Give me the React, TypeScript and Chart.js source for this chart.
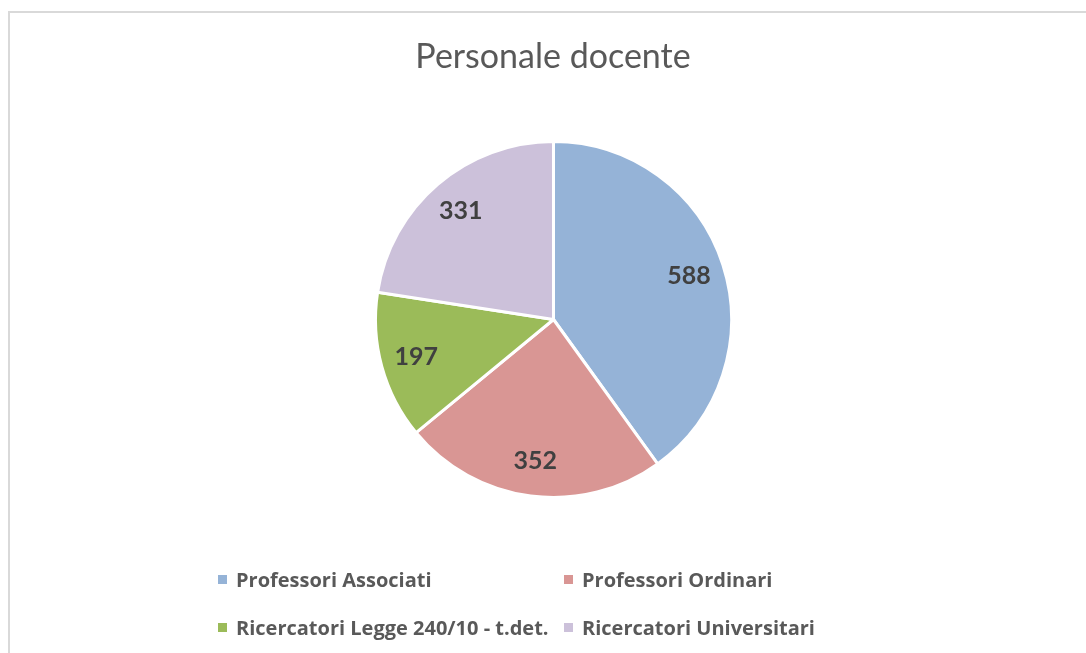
import React, { useEffect, useRef } from "react";
import { Chart, registerables } from "chart.js";

Chart.register(...registerables);

const title = "Personale docente";
const categories = [
  "Professori Associati",
  "Professori Ordinari",
  "Ricercatori Legge 240/10 - t.det.",
  "Ricercatori Universitari",
];
const values = [588, 352, 197, 331];
const colors = ["#95B3D7", "#D99694", "#9BBB59", "#CCC1DA"];

const labelPlugin = {
  id: "sliceLabels",
  afterDatasetsDraw(chart: any) {
    const ctx = chart.ctx;
    const meta = chart.getDatasetMeta(0);
    ctx.save();
    ctx.font = "bold 25px Lato, 'Open Sans', sans-serif";
    ctx.fillStyle = "#404040";
    ctx.textAlign = "center";
    ctx.textBaseline = "middle";
    meta.data.forEach((arc: any, i: number) => {
      const p = arc.getProps(["x", "y", "startAngle", "endAngle", "outerRadius"], true);
      const mid = (p.startAngle + p.endAngle) / 2;
      const r = p.outerRadius * 0.8;
      ctx.fillText(String(chart.data.datasets[0].data[i]), p.x + Math.cos(mid) * r, p.y + Math.sin(mid) * r);
    });
    ctx.restore();
  },
};

export default function App() {
  const ref = useRef<HTMLCanvasElement>(null);
  useEffect(() => {
    if (!ref.current) return;
    const chart = new Chart(ref.current, {
      type: "pie",
      data: {
        labels: categories,
        datasets: [
          {
            data: values,
            backgroundColor: colors,
            borderColor: "#ffffff",
            borderWidth: 3,
          },
        ],
      },
      options: {
        responsive: false,
        animation: false,
        layout: { padding: { top: 140, bottom: 154, left: 221, right: 200 } },
        plugins: {
          legend: { display: false },
          title: { display: false },
          tooltip: { enabled: false },
        },
      },
      plugins: [labelPlugin],
    });
    return () => chart.destroy();
  }, []);

  const legendFont = "bold 20px 'Open Sans', Lato, sans-serif";
  const legendPos = [
    { left: 218, top: 579 },
    { left: 564, top: 579 },
    { left: 218, top: 627 },
    { left: 564, top: 627 },
  ];

  return (
    <div style={{ position: "fixed", left: 0, top: 0, width: 1086, height: 653, background: "#fff", overflow: "hidden" }}>
      <div
        style={{
          position: "absolute",
          left: 8,
          top: 11,
          width: 1200,
          height: 800,
          borderLeft: "2px solid #d9d9d9",
          borderTop: "2px solid #d9d9d9",
        }}
      />
      <canvas ref={ref} width={1086} height={653} style={{ position: "absolute", left: 0, top: 0 }} />
      <div
        style={{
          position: "absolute",
          left: 0,
          width: 1106,
          top: 34,
          textAlign: "center",
          font: "34px Lato, 'Open Sans', sans-serif",
          color: "#595959",
          lineHeight: "42px",
        }}
      >
        {title}
      </div>
      {categories.map((c, i) => (
        <div
          key={c}
          style={{
            position: "absolute",
            left: legendPos[i].left,
            top: legendPos[i].top - 13,
            height: 26,
            display: "flex",
            alignItems: "center",
            font: legendFont,
            color: "#595959",
            whiteSpace: "nowrap",
          }}
        >
          <span style={{ display: "inline-block", width: 9, height: 9, background: colors[i], marginRight: 9 }} />
          {c}
        </div>
      ))}
    </div>
  );
}
